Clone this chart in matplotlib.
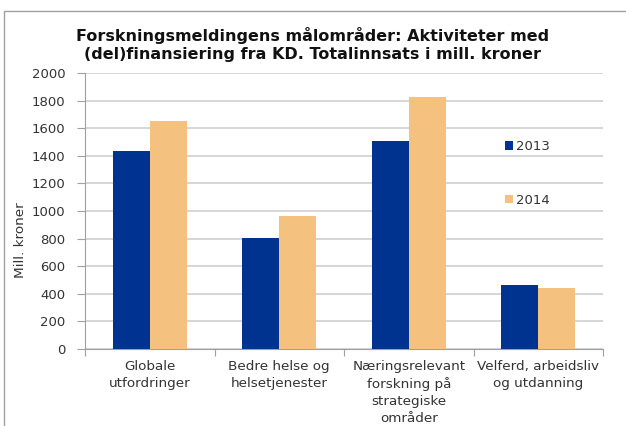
import matplotlib
matplotlib.use("Agg")
import matplotlib.pyplot as plt
import matplotlib.patches as mpatches
import numpy as np

categories = ["Globale\nutfordringer", "Bedre helse og\nhelsetjenester",
              "Næringsrelevant\nforskning på\nstrategiske\nområder",
              "Velferd, arbeidsliv\nog utdanning"]
series_names = ["2013", "2014"]
values_2013 = [1435, 805, 1507, 463]
values_2014 = [1652, 965, 1826, 442]
yticks = [0, 200, 400, 600, 800, 1000, 1200, 1400, 1600, 1800, 2000]
title = "Forskningsmeldingens målområder: Aktiviteter med\n(del)finansiering fra KD. Totalinnsats i mill. kroner"
ylabel = "Mill. kroner"

c2013 = "#00338F"
c2014 = "#F4C17F"

plt.rcParams['font.family'] = ['DejaVu Sans']
fig = plt.figure(figsize=(6.26, 4.26), dpi=100)
ax = fig.add_axes([85/626, 1-349/426, (603-85)/626, (349-73)/426])

x = np.arange(len(categories))
w = 0.286
ax.bar(x - w/2, values_2013, w, color=c2013, label=series_names[0], zorder=3)
ax.bar(x + w/2, values_2014, w, color=c2014, label=series_names[1], zorder=3)

ax.set_xlim(-0.5, len(categories) - 0.5)
ax.set_ylim(0, 2000)
ax.set_yticks(yticks)
ax.set_yticklabels([str(t) for t in yticks], fontsize=9.5, color="#333333")
ax.yaxis.grid(True, color="#d0d0d0", linewidth=1.2, zorder=0)
ax.set_axisbelow(True)

ax.set_xticks(np.arange(len(categories)+1) - 0.5)
ax.set_xticklabels([])
ax.set_xticks(x, minor=True)
ax.set_xticklabels(categories, minor=True, fontsize=9.7, color="#333333", linespacing=1.4)
ax.tick_params(axis='x', which='minor', length=0, pad=8)
ax.tick_params(axis='x', which='major', length=5, color="#a0a0a0")
ax.tick_params(axis='y', length=6, color="#a0a0a0", pad=8)

for s in ["top", "right"]:
    ax.spines[s].set_visible(False)
ax.spines["left"].set_color("#a0a0a0")
ax.spines["bottom"].set_color("#a0a0a0")

ax.set_ylabel(ylabel, fontsize=9.7, color="#333333")
ax.yaxis.set_label_coords(27/626, 1-240/426, transform=fig.transFigure)

fig.text(0.5, 1-44/426, title, ha="center", va="center", fontsize=11.5,
         fontweight="bold", color="#111111", linespacing=1.25)

leg = ax.legend(loc="upper left", bbox_to_anchor=(505/626, 1-140/426),
                bbox_transform=fig.transFigure, frameon=False, fontsize=9.5,
                handlelength=0.6, handleheight=0.6, handletextpad=0.2,
                labelspacing=3.1, borderpad=0, borderaxespad=0)
for t in leg.get_texts():
    t.set_color("#333333")

frame = mpatches.Rectangle((4/626, -0.1), 1.0, 0.1 + 1 - 11/426,
                           transform=fig.transFigure, fill=False,
                           edgecolor="#a0a0a0", linewidth=1.0)
fig.patches.append(frame)

fig.savefig("out.png", dpi=100)
